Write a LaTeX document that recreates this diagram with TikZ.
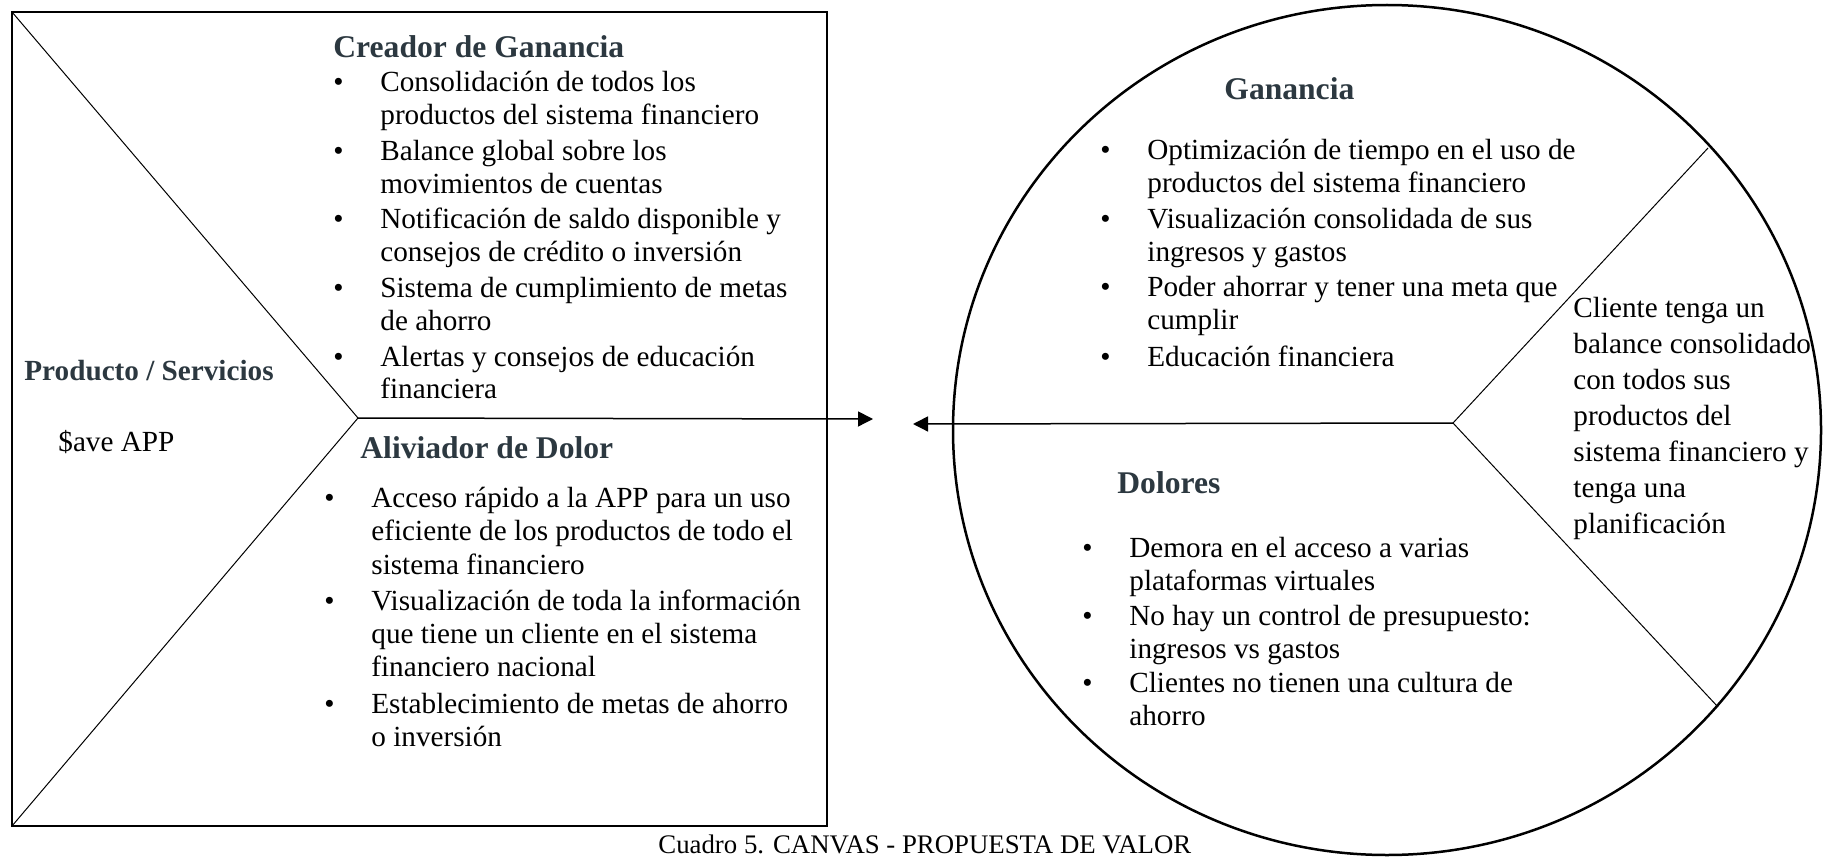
\documentclass[tikz,border=0pt]{standalone}
\usepackage{fontspec}
\setmainfont{Liberation Serif}
\usetikzlibrary{positioning}
\usetikzlibrary{arrows.meta}
\definecolor{headgray}{RGB}{44,56,64}
\newcommand{\bl}{\makebox[23.5pt][l]{\textbullet}}
\newcommand{\hg}{\hspace*{23.5pt}}

\begin{document}
\begin{tikzpicture}[x=0.5pt,y=-0.5pt,
    txt/.style={inner sep=0pt,anchor=base west,align=left,
      font=\fontsize{14.6}{16.6}\selectfont},
    % lists are hung from the top of a 12pt strut (= baseline - 24px)
    list/.style={txt,anchor=north west,execute at begin node=\rule{0pt}{12pt}},
    head/.style={inner sep=0pt,anchor=base west,text=headgray,
      font=\fontsize{15.8}{18}\selectfont\bfseries},
    thinline/.style={line width=0.5pt},
    arr/.style={line width=0.75pt,-{Triangle[length=7.5pt,width=7.5pt]}}]
  \useasboundingbox (0,0) rectangle (1824,856);

  % Left square (value map)
  \draw[line width=1.25pt] (12,12) rectangle (827,826);
  \coordinate (tl) at (12,12);
  \coordinate (bl) at (12,826);
  \coordinate (tip) at (358,418);
  \draw[thinline] (tl) -- (tip) -- (bl);

  \node[head] (creador) at (333,58) {Creador de Ganancia};
  \node[list,font=\fontsize{14.6}{16.4}\selectfont] (creadorlist) at (333,71) {\bl Consolidación de todos los\\
    \hg productos del sistema financiero\\[1.5pt]
    \bl Balance global sobre los\\
    \hg movimientos de cuentas\\[1.5pt]
    \bl Notificación de saldo disponible y\\
    \hg consejos de crédito o inversión\\[1.5pt]
    \bl Sistema de cumplimiento de metas\\
    \hg de ahorro\\[1.5pt]
    \bl Alertas y consejos de educación\\
    \hg financiera};

  \node[head,font=\fontsize{14.6}{17}\selectfont\bfseries] (producto) at (24,380) {Producto / Servicios};
  \node[txt] (app) at (58,451) {\$ave APP};

  \node[head] (aliviador) at (360,458) {Aliviador de Dolor};
  \node[list] (aliviadorlist) at (324,487) {\bl Acceso rápido a la APP para un uso\\
    \hg eficiente de los productos de todo el\\
    \hg sistema financiero\\[1.6pt]
    \bl Visualización de toda la información\\
    \hg que tiene un cliente en el sistema\\
    \hg financiero nacional\\[1.6pt]
    \bl Establecimiento de metas de ahorro\\
    \hg o inversión};

  % Right circle (customer profile)
  \draw[line width=1.25pt] (1387,430) ellipse [x radius=217pt, y radius=212.5pt];
  \coordinate (hub) at (1453,423);
  \coordinate (rimtop) at (1708,148);
  \coordinate (rimbot) at (1718,707);
  \draw[thinline] (rimtop) -- (hub) -- (rimbot);

  \node[head] (ganancia) at (1224,100) {Ganancia};
  \node[list] (gananciaList) at (1100,139) {\bl Optimización de tiempo en el uso de\\
    \hg productos del sistema financiero\\[1pt]
    \bl Visualización consolidada de sus\\
    \hg ingresos y gastos\\[1pt]
    \bl Poder ahorrar y tener una meta que\\
    \hg cumplir\\[1.6pt]
    \bl Educación financiera};

  \node[list,font=\fontsize{14.6}{18}\selectfont] (cliente) at (1573,297) {Cliente tenga un\\
    balance consolidado\\
    con todos sus\\
    productos del\\
    sistema financiero y\\
    tenga una\\
    planificación};

  \node[head] (dolores) at (1117,493) {Dolores};
  \node[list] (doloresList) at (1082,537) {\bl Demora en el acceso a varias\\
    \hg plataformas virtuales\\[0.5pt]
    \bl No hay un control de presupuesto:\\
    \hg ingresos vs gastos\\[0.5pt]
    \bl Clientes no tienen una cultura de\\
    \hg ahorro};

  % Arrows between both sides
  \coordinate (arrR) at (873,419);
  \coordinate (arrL) at (913,424);
  \draw[arr] (tip) -- (arrR);
  \draw[arr] (hub) -- (arrL);

  \node[inner sep=0pt,anchor=base west,font=\fontsize{13.4}{15}\selectfont] (caption) at (658,853)
    {Cuadro 5. CANVAS - PROPUESTA DE VALOR};
\end{tikzpicture}
\end{document}
